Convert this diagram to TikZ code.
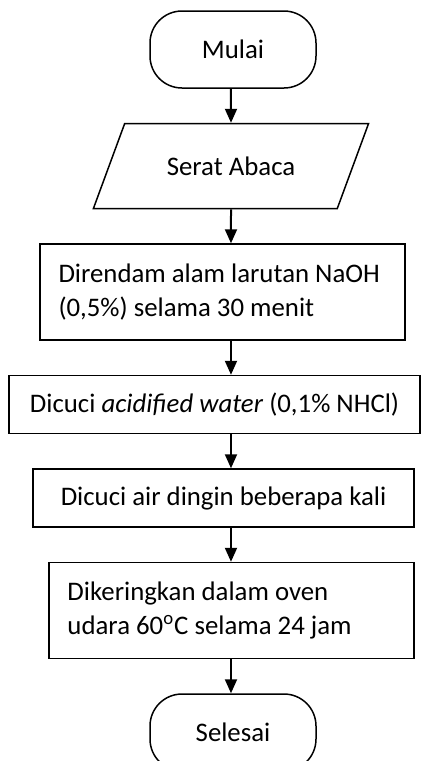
\documentclass[tikz,border=0pt]{standalone}
\usepackage{fontspec}
\setmainfont{Carlito}
\usetikzlibrary{positioning,shapes.geometric,arrows.meta}
\tikzset{
  terminal/.style={draw, line width=0.75pt, rounded corners=16pt,
    minimum width=83pt, minimum height=38.5pt},
  inout/.style={draw, line width=0.75pt, trapezium, trapezium left angle=57,
    trapezium right angle=123, trapezium stretches=true,
    minimum width=139pt, minimum height=42.5pt},
  process/.style={draw, line width=0.75pt, inner xsep=10pt, inner ysep=0pt,
    minimum height=29pt},
  twoline/.style={process, inner xsep=9.25pt, text width=164pt,
    align=flush left, minimum height=48pt},
  arr/.style={-{Triangle[length=7pt,width=6pt]}, line width=1pt}
}
\begin{document}
\begin{tikzpicture}[node distance=17pt,
  every node/.style={font=\fontsize{13.4}{17}\selectfont}]
\useasboundingbox (0,0) rectangle (210.5pt,-380.5pt);
\node[terminal] (mulai) at (116.5pt,-24.75pt) {Mulai};
\node[inout, below=of mulai, xshift=-1pt] (serat) {Serat Abaca};
\node[twoline, below=of serat, xshift=-4.25pt] (rendam)
  {Direndam alam larutan NaOH\\(0,5\%) selama 30 menit};
\node[process, below=of rendam, xshift=-4pt, minimum width=205.5pt] (cuciasam)
  {Dicuci \textit{acidified water} (0,1\% NHCl)};
\node[process, below=of cuciasam, xshift=4.5pt, minimum width=190.5pt] (cuciair)
  {Dicuci air dingin beberapa kali};
\node[twoline, below=of cuciair, xshift=4pt] (kering)
  {Dikeringkan dalam oven\\udara 60\textsuperscript{o}C selama 24 jam};
\node[terminal, below=of kering, xshift=0.75pt] (selesai) {Selesai};
\draw[arr] (mulai.south -| serat) -- (serat.north);
\draw[arr] (serat.south) -- (rendam.north -| serat);
\draw[arr] (rendam.south -| serat) -- (cuciasam.north -| serat);
\draw[arr] (cuciasam.south -| serat) -- (cuciair.north -| serat);
\draw[arr] (cuciair.south -| serat) -- (kering.north -| serat);
\draw[arr] (kering.south -| serat) -- (selesai.north -| serat);
\end{tikzpicture}
\end{document}
